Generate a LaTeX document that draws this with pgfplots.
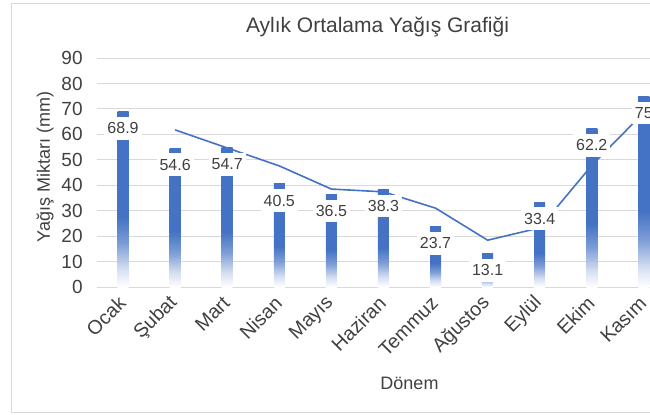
\documentclass[border=0pt]{standalone}
\usepackage{fontspec}
\setmainfont{Liberation Sans}
\usepackage{pgfplots}
\pgfplotsset{compat=1.18}
\definecolor{barblue}{HTML}{4472C4}
\definecolor{gridgray}{HTML}{D9D9D9}
\definecolor{txt}{HTML}{404040}
\colorlet{barA}{barblue!22!white}
\colorlet{barB}{barblue!70!white}
\pgfdeclareverticalshading{barfade}{100bp}{color(0bp)=(white); color(25bp)=(white); color(30bp)=(barA); color(37.5bp)=(barB); color(45bp)=(barblue); color(100bp)=(barblue)}
\newcommand{\mybar}[2]{\addplot[ybar, draw=none, fill=barblue, shading=barfade,
  nodes near coords,
  nodes near coords style={anchor=north, yshift=-2.5pt, fill=white, inner xsep=1.5pt, inner ysep=2.8pt, text=txt, font=\fontsize{8}{9.6}\selectfont}]
  coordinates {(#1,#2)};}
\begin{document}
\begin{tikzpicture}[x=1pt,y=1pt]
\path[use as bounding box] (-48.5,-63.5) rectangle (276.5,143.5);
\begin{scope}[overlay]
\clip (-48.5,-63.5) rectangle (276.5,143.5);
\draw[gridgray, line width=0.5pt] (-42.5,-62.5) rectangle (340,142);
\begin{axis}[
  at={(0,0)}, anchor=south west, scale only axis,
  width=312.5pt, height=114.5pt,
  xmin=-0.5, xmax=11.5, ymin=0, ymax=90,
  ytick={0,10,...,90},
  xtick={0,...,10},
  xticklabels={Ocak,Şubat,Mart,Nisan,Mayıs,Haziran,Temmuz,Ağustos,Eylül,Ekim,Kasım},
  major tick length=0pt,
  axis line style={draw=none},
  ymajorgrids, grid style={gridgray, line width=0.5pt},
  tick label style={font=\fontsize{9.5}{11}\selectfont, text=txt},
  /pgf/number format/assume math mode=true,
  xticklabel style={yshift=-6pt, rotate=45, anchor=east, inner sep=0.5pt, font=\fontsize{9.8}{11}\selectfont},
  yticklabel style={anchor=east, inner sep=0pt, xshift=-7pt},
  xlabel={Dönem}, ylabel={Yağış Miktarı (mm)},
  xlabel style={at={(axis description cs:0.5,-0.419)}, anchor=center, font=\fontsize{9}{11}\selectfont, text=txt},
  ylabel style={at={(axis description cs:-0.083,0.525)}, anchor=center, font=\fontsize{9}{11}\selectfont, text=txt},
  title={Aylık Ortalama Yağış Grafiği},
  title style={at={(axis description cs:0.4488,1.061)}, anchor=base, font=\fontsize{10.5}{12}\selectfont, text=txt},
  bar width=5.5pt,
]
\mybar{0}{68.9}
\mybar{1}{54.6}
\mybar{2}{54.7}
\mybar{3}{40.5}
\mybar{4}{36.5}
\mybar{5}{38.3}
\mybar{6}{23.7}
\mybar{7}{13.1}
\mybar{8}{33.4}
\mybar{9}{62.2}
\mybar{10}{75}
\addplot[barblue, line width=0.8pt, mark=none, sharp plot]
  coordinates {(1,61.75) (2,54.65) (3,47.6) (4,38.5) (5,37.4) (6,31.0) (7,18.4) (8,23.25) (9,47.8) (10,68.6)};
\end{axis}
\end{scope}
\end{tikzpicture}
\end{document}
